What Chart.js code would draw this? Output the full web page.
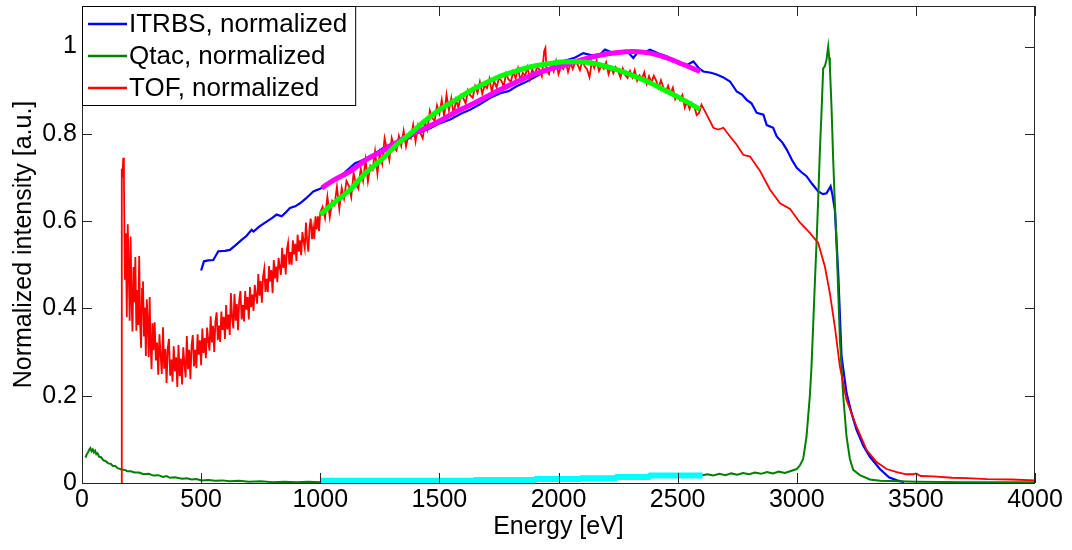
<!DOCTYPE html>
<html>
<head>
<meta charset="utf-8">
<script src="https://cdn.jsdelivr.net/npm/chart.js@4"></script>
<style>
  html, body { margin: 0; padding: 0; background: #fff; }
</style>
</head>
<body>
<canvas id="spec" width="1072" height="550"></canvas>
<script>
// --- values (energy in eV, intensity normalized) ---

const itrbsE = [500, 512, 530, 551, 572, 600, 621, 645, 670, 690, 712, 720, 745, 775, 800, 817, 838, 855, 873, 895,
    915, 940, 971, 999, 1030, 1069, 1100, 1146, 1170, 1195, 1230, 1265, 1300, 1330, 1363, 1400, 1430, 1461, 1500, 1545,
    1590, 1628, 1670, 1712, 1760, 1790, 1824, 1860, 1894, 1940, 1978, 2010, 2040, 2070, 2104, 2140, 2174, 2195, 2230, 2258,
    2290, 2314, 2335, 2360, 2384, 2420, 2454, 2480, 2510, 2540, 2566, 2590, 2608, 2640, 2664, 2690, 2720, 2748, 2770, 2790,
    2810, 2832, 2860, 2874, 2901, 2916, 2940, 2958, 2980, 3000, 3020, 3041, 3065, 3090, 3110, 3125, 3142, 3150, 3160, 3174,
    3188, 3209, 3230, 3251, 3280, 3307, 3349, 3387, 3420, 3450];
const itrbsI = [0.487, 0.508, 0.510, 0.511, 0.531, 0.532, 0.534, 0.545, 0.557, 0.566, 0.580, 0.576, 0.588, 0.599, 0.608, 0.615, 0.611, 0.620, 0.630, 0.634,
    0.641, 0.652, 0.668, 0.674, 0.684, 0.695, 0.710, 0.733, 0.738, 0.745, 0.755, 0.768, 0.778, 0.782, 0.787, 0.800, 0.806, 0.813, 0.824, 0.833,
    0.846, 0.855, 0.868, 0.882, 0.894, 0.898, 0.909, 0.918, 0.928, 0.942, 0.955, 0.965, 0.970, 0.975, 0.985, 0.980, 0.982, 0.993, 0.985, 0.985,
    0.988, 0.974, 0.989, 0.987, 0.993, 0.984, 0.978, 0.970, 0.959, 0.958, 0.966, 0.950, 0.943, 0.940, 0.936, 0.930, 0.920, 0.897, 0.890, 0.878,
    0.870, 0.848, 0.844, 0.820, 0.814, 0.794, 0.780, 0.764, 0.740, 0.722, 0.712, 0.703, 0.685, 0.668, 0.662, 0.664, 0.680, 0.660, 0.626, 0.481,
    0.290, 0.206, 0.160, 0.122, 0.085, 0.060, 0.032, 0.013, 0.006, 0.002];

const qtacE = [15, 20, 25, 30, 35, 40, 45, 50, 55, 60, 65, 72, 80, 90, 100, 110, 120, 130, 140, 150,
    166, 180, 190, 205, 220, 240, 257, 280, 300, 320, 340, 355, 369, 390, 420, 440, 460, 480, 502, 530,
    560, 590, 620, 660, 700, 750, 800, 850, 900, 950, 1000, 1300, 1650, 1900, 2100, 2300, 2500, 2600, 2625, 2650,
    2675, 2700, 2725, 2750, 2775, 2800, 2825, 2850, 2875, 2900, 2925, 2950, 2972, 3000, 3013, 3027, 3041, 3055, 3062, 3076,
    3083, 3090, 3097, 3104, 3111, 3118, 3125, 3132, 3136, 3139, 3146, 3153, 3160, 3167, 3174, 3181, 3195, 3209, 3223, 3237,
    3265, 3307, 3350, 3500, 3700, 4000];
const qtacI = [0.058, 0.066, 0.070, 0.076, 0.080, 0.073, 0.077, 0.070, 0.074, 0.066, 0.068, 0.060, 0.059, 0.052, 0.050, 0.045, 0.044, 0.039, 0.039, 0.034,
    0.031, 0.030, 0.027, 0.027, 0.024, 0.024, 0.020, 0.021, 0.017, 0.018, 0.014, 0.016, 0.012, 0.013, 0.010, 0.011, 0.008, 0.009, 0.006, 0.007,
    0.005, 0.006, 0.004, 0.005, 0.003, 0.004, 0.002, 0.003, 0.002, 0.003, 0.002, 0.003, 0.005, 0.008, 0.011, 0.014, 0.016, 0.017, 0.020, 0.017,
    0.021, 0.018, 0.022, 0.019, 0.023, 0.020, 0.024, 0.021, 0.025, 0.022, 0.026, 0.023, 0.027, 0.032, 0.040, 0.055, 0.106, 0.200, 0.267, 0.458,
    0.550, 0.650, 0.760, 0.850, 0.950, 0.955, 0.970, 1.000, 0.975, 0.955, 0.860, 0.740, 0.640, 0.550, 0.440, 0.330, 0.200, 0.106, 0.055, 0.030,
    0.018, 0.008, 0.005, 0.003, 0.002, 0.002];

const tofE = [166, 167, 170, 173, 176, 180, 184, 188, 192, 196, 200, 204, 208, 212, 216, 220, 224, 228, 232, 236,
    240, 244, 248, 252, 256, 260, 264, 268, 272, 276, 280, 284, 288, 292, 296, 300, 305, 310, 315, 320,
    325, 330, 335, 340, 345, 350, 355, 360, 365, 370, 375, 380, 385, 390, 395, 400, 405, 410, 415, 420,
    425, 430, 435, 440, 445, 450, 455, 460, 465, 470, 475, 480, 485, 490, 495, 500, 505, 510, 515, 520,
    525, 530, 535, 540, 545, 550, 555, 560, 565, 570, 575, 580, 585, 590, 595, 600, 605, 610, 615, 620,
    625, 630, 635, 640, 645, 650, 655, 660, 665, 670, 675, 680, 685, 690, 695, 700, 705, 710, 715, 720,
    725, 730, 735, 740, 745, 750, 755, 760, 765, 770, 775, 780, 785, 790, 795, 800, 805, 810, 815, 820,
    825, 830, 835, 840, 845, 850, 855, 860, 865, 870, 875, 880, 885, 890, 895, 900, 905, 910, 915, 920,
    925, 930, 935, 940, 945, 950, 955, 960, 965, 970, 975, 980, 985, 990, 995, 1000, 1010, 1020, 1030, 1040,
    1050, 1060, 1070, 1080, 1090, 1100, 1110, 1120, 1130, 1140, 1150, 1160, 1170, 1180, 1190, 1200, 1210, 1220, 1230, 1240,
    1250, 1260, 1270, 1280, 1290, 1300, 1310, 1320, 1330, 1340, 1350, 1360, 1370, 1380, 1390, 1400, 1410, 1420, 1430, 1440,
    1450, 1460, 1470, 1480, 1490, 1500, 1510, 1520, 1530, 1540, 1550, 1560, 1570, 1580, 1590, 1600, 1610, 1620, 1630, 1640,
    1650, 1660, 1670, 1680, 1690, 1700, 1710, 1720, 1730, 1740, 1750, 1760, 1770, 1780, 1790, 1800, 1810, 1820, 1830, 1840,
    1850, 1860, 1870, 1880, 1890, 1900, 1910, 1920, 1930, 1940, 1945, 1950, 1960, 1970, 1980, 1990, 2000, 2010, 2020, 2030,
    2040, 2050, 2060, 2070, 2080, 2090, 2100, 2110, 2120, 2130, 2140, 2150, 2160, 2170, 2180, 2190, 2200, 2210, 2220, 2230,
    2240, 2250, 2260, 2270, 2280, 2290, 2300, 2310, 2320, 2330, 2340, 2350, 2360, 2370, 2380, 2390, 2400, 2410, 2420, 2430,
    2440, 2450, 2460, 2470, 2480, 2490, 2500, 2510, 2520, 2530, 2540, 2550, 2560, 2570, 2580, 2590, 2600, 2622, 2650, 2671,
    2692, 2720, 2748, 2775, 2804, 2846, 2888, 2930, 2972, 3013, 3055, 3090, 3118, 3139, 3160, 3181, 3209, 3251, 3293, 3335,
    3377, 3420, 3460, 3489, 3500, 3520, 3573, 3650, 3713, 3800, 3900, 4000];
const tofI = [0.000, 0.720, 0.700, 0.745, 0.696, 0.466, 0.572, 0.380, 0.593, 0.494, 0.372, 0.565, 0.417, 0.347, 0.495, 0.414, 0.518, 0.349, 0.442, 0.362,
    0.520, 0.363, 0.310, 0.445, 0.462, 0.336, 0.402, 0.291, 0.421, 0.366, 0.288, 0.426, 0.315, 0.261, 0.366, 0.304, 0.368, 0.281, 0.322, 0.248,
    0.341, 0.292, 0.250, 0.357, 0.262, 0.307, 0.229, 0.310, 0.330, 0.246, 0.283, 0.232, 0.313, 0.256, 0.288, 0.220, 0.316, 0.245, 0.285, 0.226,
    0.311, 0.273, 0.242, 0.337, 0.261, 0.305, 0.238, 0.316, 0.339, 0.267, 0.305, 0.263, 0.341, 0.294, 0.327, 0.270, 0.354, 0.298, 0.332, 0.286,
    0.356, 0.327, 0.303, 0.382, 0.322, 0.360, 0.300, 0.370, 0.391, 0.327, 0.361, 0.323, 0.393, 0.351, 0.381, 0.330, 0.408, 0.352, 0.386, 0.339,
    0.435, 0.379, 0.354, 0.433, 0.372, 0.410, 0.350, 0.420, 0.440, 0.375, 0.408, 0.370, 0.440, 0.397, 0.426, 0.375, 0.449, 0.403, 0.432, 0.394,
    0.454, 0.431, 0.411, 0.479, 0.429, 0.463, 0.413, 0.473, 0.491, 0.438, 0.468, 0.437, 0.497, 0.462, 0.488, 0.435, 0.511, 0.469, 0.496, 0.460,
    0.516, 0.495, 0.477, 0.539, 0.493, 0.524, 0.478, 0.534, 0.550, 0.501, 0.529, 0.500, 0.556, 0.524, 0.548, 0.509, 0.569, 0.530, 0.556, 0.522,
    0.575, 0.555, 0.538, 0.597, 0.554, 0.530, 0.586, 0.606, 0.559, 0.585, 0.559, 0.611, 0.581, 0.611, 0.577, 0.620, 0.633, 0.607, 0.656, 0.609,
    0.646, 0.637, 0.679, 0.628, 0.676, 0.652, 0.692, 0.681, 0.655, 0.710, 0.684, 0.674, 0.721, 0.693, 0.740, 0.691, 0.727, 0.718, 0.760, 0.709,
    0.757, 0.732, 0.790, 0.764, 0.740, 0.790, 0.771, 0.762, 0.795, 0.773, 0.807, 0.771, 0.797, 0.790, 0.821, 0.783, 0.819, 0.802, 0.790, 0.827,
    0.810, 0.853, 0.836, 0.830, 0.865, 0.846, 0.878, 0.840, 0.890, 0.854, 0.882, 0.844, 0.878, 0.860, 0.889, 0.882, 0.870, 0.900, 0.888, 0.883,
    0.909, 0.894, 0.919, 0.892, 0.911, 0.905, 0.926, 0.897, 0.921, 0.906, 0.928, 0.922, 0.909, 0.938, 0.925, 0.919, 0.942, 0.927, 0.950, 0.923,
    0.940, 0.933, 0.953, 0.925, 0.948, 0.933, 0.954, 0.947, 0.932, 0.990, 0.997, 0.945, 0.937, 0.960, 0.943, 0.966, 0.937, 0.954, 0.949, 0.966,
    0.942, 0.962, 0.949, 0.965, 0.959, 0.946, 0.968, 0.955, 0.948, 0.930, 0.965, 0.951, 0.968, 0.944, 0.957, 0.949, 0.964, 0.937, 0.953, 0.939,
    0.953, 0.944, 0.929, 0.950, 0.935, 0.928, 0.944, 0.929, 0.946, 0.922, 0.934, 0.926, 0.941, 0.915, 0.932, 0.918, 0.933, 0.922, 0.905, 0.923,
    0.906, 0.896, 0.910, 0.892, 0.906, 0.879, 0.888, 0.877, 0.889, 0.860, 0.874, 0.857, 0.871, 0.862, 0.843, 0.848, 0.867, 0.844, 0.814, 0.810,
    0.814, 0.794, 0.775, 0.752, 0.748, 0.715, 0.672, 0.641, 0.628, 0.597, 0.573, 0.550, 0.496, 0.435, 0.358, 0.267, 0.190, 0.129, 0.076, 0.048,
    0.032, 0.025, 0.020, 0.020, 0.022, 0.016, 0.015, 0.012, 0.011, 0.009, 0.008, 0.006];

// fitted curves over 1000-2600 eV
const fitItrbsE = [1006, 1060, 1125, 1190, 1265, 1320, 1377, 1440, 1503, 1560, 1615, 1680, 1754, 1820, 1894, 1960, 2034, 2100, 2174, 2240, 2314, 2384, 2454, 2524, 2594];
const fitItrbsI = [0.676, 0.695, 0.714, 0.740, 0.762, 0.780, 0.798, 0.813, 0.830, 0.848, 0.862, 0.880, 0.901, 0.918, 0.936, 0.948, 0.959, 0.970, 0.980, 0.986, 0.989, 0.985, 0.974, 0.959, 0.943];
const fitTofE = [1000, 1060, 1125, 1190, 1265, 1320, 1377, 1440, 1503, 1560, 1615, 1680, 1754, 1820, 1894, 1960, 2034, 2080, 2132, 2190, 2244, 2310, 2384, 2450, 2524, 2594];
const fitTofI = [0.615, 0.643, 0.672, 0.710, 0.745, 0.775, 0.800, 0.830, 0.856, 0.875, 0.894, 0.913, 0.932, 0.944, 0.955, 0.961, 0.965, 0.965, 0.963, 0.956, 0.947, 0.934, 0.917, 0.899, 0.878, 0.856];
const fitQtacE = [1000, 1300, 1645, 1650, 1900, 1905, 2090, 2095, 2240, 2245, 2380, 2385, 2605];
const fitQtacI = [0.005, 0.005, 0.005, 0.007, 0.007, 0.009, 0.009, 0.011, 0.011, 0.014, 0.014, 0.017, 0.017];

const xTickStep = 500;
const yTickStep = 0.2;
const yTop = 1.093;

function pts(xs, ys) {
    return xs.map((x, i) => ({ x: x, y: ys[i] }));
}

const FONT = 'Arial, "Liberation Sans", Helvetica, sans-serif';

// matlab-style box: full frame and inward ticks on all four sides
const boxAxes = {
    id: 'boxAxes',
    afterDraw(chart) {
        const { ctx, chartArea: a, scales } = chart;
        const sx = scales.x, sy = scales.y;
        ctx.save();
        ctx.strokeStyle = '#262626';
        ctx.lineWidth = 1;
        ctx.beginPath();
        sx.ticks.forEach(t => {
            const px = Math.round(sx.getPixelForValue(t.value)) + 0.5;
            ctx.moveTo(px, a.bottom); ctx.lineTo(px, a.bottom - 10);
            ctx.moveTo(px, a.top); ctx.lineTo(px, a.top + 10);
        });
        sy.ticks.forEach(t => {
            const py = Math.round(sy.getPixelForValue(t.value)) + 0.5;
            ctx.moveTo(a.left, py); ctx.lineTo(a.left + 10, py);
            ctx.moveTo(a.right, py); ctx.lineTo(a.right - 10, py);
        });
        ctx.stroke();
        ctx.strokeRect(a.left + 0.5, a.top + 0.5, a.right - a.left - 1, a.bottom - a.top);
        ctx.restore();
    }
};

// boxed legend in the upper left corner of the axes
const boxLegend = {
    id: 'boxLegend',
    afterDraw(chart) {
        const { ctx, chartArea: a } = chart;
        const items = chart.data.datasets.filter(d => d.label);
        ctx.save();
        ctx.font = '26px ' + FONT;
        const textW = Math.max(...items.map(d => ctx.measureText(d.label).width));
        const x0 = a.left, y0 = a.top;
        const w = 48 + textW + 7, h = 99;
        ctx.fillStyle = '#fff';
        ctx.fillRect(x0, y0, w, h);
        ctx.strokeStyle = '#000';
        ctx.lineWidth = 1;
        ctx.strokeRect(x0 + 0.5, y0 + 0.5, w, h);
        items.forEach((d, i) => {
            const cy = y0 + 18 + i * 32;
            ctx.strokeStyle = d.borderColor;
            ctx.lineWidth = 2.5;
            ctx.beginPath();
            ctx.moveTo(x0 + 6, cy);
            ctx.lineTo(x0 + 45, cy);
            ctx.stroke();
            ctx.fillStyle = '#000';
            ctx.textBaseline = 'middle';
            ctx.fillText(d.label, x0 + 47, cy + 1);
        });
        ctx.restore();
    }
};

function series(label, xs, ys, color, width, order, smooth) {
    return {
        label: label,
        data: pts(xs, ys),
        borderColor: color,
        backgroundColor: color,
        borderWidth: width,
        pointRadius: 0,
        order: order,
        tension: smooth ? 0.4 : 0,
        cubicInterpolationMode: smooth ? 'monotone' : 'default'
    };
}

new Chart(document.getElementById('spec'), {
    type: 'line',
    data: {
        datasets: [
            series('ITRBS, normalized', itrbsE, itrbsI, '#0000ff', 2.2, 6, false),
            series('Qtac, normalized', qtacE, qtacI, '#008000', 2, 5, false),
            series('TOF, normalized', tofE, tofI, '#ff0000', 1.8, 4, false),
            series('', fitQtacE, fitQtacI, '#00ffff', 6, 2, false),
            series('', fitItrbsE, fitItrbsI, '#ff00ff', 5, 1, true),
            series('', fitTofE, fitTofI, '#00ff00', 5, 0, true)
        ]
    },
    options: {
        responsive: false,
        animation: false,
        layout: { padding: { left: 0, top: 6, right: 37, bottom: 0 } },
        plugins: {
            legend: { display: false },
            tooltip: { enabled: false }
        },
        scales: {
            x: {
                type: 'linear',
                min: 0,
                max: 4000,
                grid: { display: false, drawTicks: false },
                border: { display: false },
                ticks: {
                    stepSize: xTickStep,
                    color: '#000',
                    font: { family: FONT, size: 25 },
                    padding: 2,
                    maxRotation: 0,
                    autoSkip: false,
                    callback: v => String(v)
                },
                title: {
                    display: true,
                    text: 'Energy [eV]',
                    color: '#000',
                    font: { family: FONT, size: 25 },
                    padding: { top: 0, bottom: 8 }
                },
                afterFit(s) {
                    s.height = 67;
                    s.paddingLeft = 0;
                    s.paddingRight = 0;
                }
            },
            y: {
                min: 0,
                max: yTop,
                grid: { display: false, drawTicks: false },
                border: { display: false },
                ticks: {
                    stepSize: yTickStep,
                    color: '#000',
                    font: { family: FONT, size: 25 },
                    padding: 5,
                    callback: v => String(+v.toFixed(1))
                },
                afterBuildTicks(s) {
                    s.ticks = s.ticks.filter(t => t.value <= 1.0001);
                },
                title: {
                    display: true,
                    text: 'Normalized intensity [a.u.]',
                    color: '#000',
                    font: { family: FONT, size: 25 },
                    padding: { top: 9, bottom: 0 }
                },
                afterFit(s) {
                    s.width = 82;
                    s.paddingTop = 0;
                    s.paddingBottom = 0;
                }
            }
        }
    },
    plugins: [boxAxes, boxLegend]
});
</script>
</body>
</html>
